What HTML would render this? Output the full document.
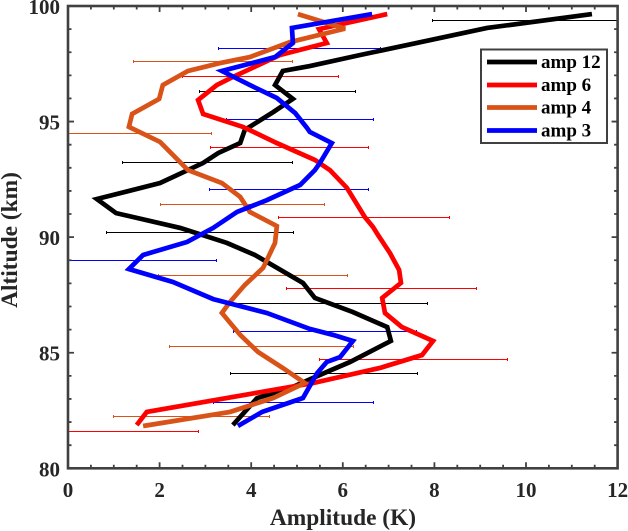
<!DOCTYPE html>
<html>
<head>
<meta charset="utf-8">
<style>
html,body{margin:0;padding:0;background:#fff;}
svg{display:block;font-family:"Liberation Serif",serif;font-weight:bold;}
</style>
</head>
<body>
<svg id="chart" xmlns="http://www.w3.org/2000/svg" width="628" height="531" viewBox="0 0 628 531">
  <defs><clipPath id="plot-clip"><rect x="68" y="6" width="550" height="462.3"></rect></clipPath></defs>
  <rect x="0" y="0" width="628" height="531" fill="#fff"></rect>
  <g id="err-layer" clip-path="url(#plot-clip)"></g>
  <g id="line-layer" clip-path="url(#plot-clip)"></g>
  <g id="axis-layer"></g>
  <text x="343" y="525" font-size="23.4" text-anchor="middle" fill="#262626">Amplitude (K)</text>
  <text transform="translate(17,240) rotate(-90)" font-size="23.4" text-anchor="middle" fill="#262626">Altitude (km)</text>
  <g id="legend-layer"></g>
</svg>
<script>
var xTicks = [0, 2, 4, 6, 8, 10, 12];
var yTicks = [80, 85, 90, 95, 100];
var xDomain = [0, 12];
var yDomain = [80, 100];

var amp12Amp = [3.60,4.13,4.85,5.50,6.16,7.05,6.97,6.22,5.39,5.13,4.08,3.47,2.45,1.05,0.63,2.01,2.95,3.28,3.76,3.86,4.48,4.91,4.52,4.69,5.28,6.38,7.40,9.15,11.44];
var amp12Alt = [81.87,83.04,83.47,84.04,84.60,85.51,86.11,86.76,87.37,88.02,89.23,89.75,90.40,91.04,91.65,92.34,93.21,93.64,94.07,94.64,95.41,95.98,96.58,97.19,97.40,97.88,98.31,99.05,99.65];

var amp6Amp = [1.50,1.72,5.35,6.81,7.73,7.97,7.29,6.92,6.86,7.27,7.23,7.03,6.77,6.66,6.48,6.09,5.72,5.39,4.56,3.82,2.95,2.84,3.25,3.60,4.63,5.65,5.48,6.97];
var amp6Alt = [81.87,82.44,83.69,84.34,84.90,85.51,86.11,86.72,87.37,88.02,88.58,89.31,90.09,90.44,90.87,92.13,92.90,93.34,94.07,94.77,95.33,95.93,96.58,96.93,97.88,98.40,99.00,99.65];

var amp4Amp = [1.64,3.54,4.48,5.17,4.69,4.15,3.76,3.36,3.54,3.86,4.26,4.52,4.56,3.97,3.76,3.36,2.62,2.01,1.33,1.40,1.99,2.07,2.62,3.32,3.97,4.85,6.05,5.02];
var amp4Alt = [81.83,82.44,83.04,83.69,84.34,85.03,85.77,86.72,87.20,87.93,88.67,89.75,90.48,91.09,91.74,92.34,92.90,94.12,94.77,95.33,95.98,96.58,97.19,97.53,97.79,98.44,99.02,99.65];

var amp3Amp = [3.71,4.24,5.13,5.44,5.65,5.94,6.22,5.79,5.28,4.34,3.17,2.29,1.33,1.64,2.60,3.17,3.69,4.34,5.07,5.39,5.50,5.76,5.28,5.22,4.96,4.56,3.97,3.36,4.52,4.91,4.89,6.64];
var amp3Alt = [81.83,82.44,83.04,84.12,84.60,84.81,85.51,85.77,86.03,86.72,87.32,88.06,88.62,89.23,89.79,90.40,91.09,91.60,92.26,92.90,93.21,94.07,94.55,94.72,95.37,96.02,96.58,97.19,97.79,98.40,99.05,99.65];

var amp12ErrAlt = [99.39,96.32,93.25,90.18,87.15,84.08];
var amp12ErrLow = [7.95,2.88,1.20,0.83,3.54,3.54];
var amp12ErrHigh = [14.10,6.27,4.91,4.93,7.86,7.64];

var amp6ErrAlt = [96.93,93.90,90.83,87.76,84.69,81.61];
var amp6ErrLow = [2.51,3.12,4.59,4.78,5.50,0];
var amp6ErrHigh = [5.90,6.57,8.34,8.91,9.59,2.84];

var amp4ErrAlt = [97.58,94.50,91.43,88.36,85.29,82.22];
var amp4ErrLow = [1.44,0,2.01,1.97,2.21,1.00];
var amp4ErrHigh = [4.91,3.14,5.61,6.11,6.24,4.39];

var amp3ErrAlt = [98.18,95.11,92.04,88.97,85.90,82.83];
var amp3ErrLow = [3.28,3.47,3.08,0,3.62,3.17];
var amp3ErrHigh = [6.83,6.66,6.57,3.25,7.60,6.66];

var seriesLabels = ["amp 12", "amp 6", "amp 4", "amp 3"];
var seriesColors = ["#000000", "#ff0000", "#d95319", "#0000ff"];

var NS = "http://www.w3.org/2000/svg";
var plot = {left: 68, right: 617.6, top: 6, bottom: 468.3};

function xScale(v) {
  return plot.left + (v - xDomain[0]) / (xDomain[1] - xDomain[0]) * (plot.right - plot.left);
}
function yScale(v) {
  return plot.bottom - (v - yDomain[0]) / (yDomain[1] - yDomain[0]) * (plot.bottom - plot.top);
}
function make(tag, parent, attrs) {
  var el = document.createElementNS(NS, tag);
  for (var k in attrs) { el.setAttribute(k, attrs[k]); }
  parent.appendChild(el);
  return el;
}

var errLayer = document.getElementById("err-layer");
var lineLayer = document.getElementById("line-layer");
var axisLayer = document.getElementById("axis-layer");
var legendLayer = document.getElementById("legend-layer");

function drawErrors(alts, lows, highs, color) {
  alts.forEach(function (alt, i) {
    var y = Math.floor(yScale(alt)) + 0.5;
    var x1 = Math.floor(xScale(lows[i])) + 0.5;
    var x2 = Math.floor(xScale(highs[i])) + 0.5;
    var d = "M" + x1 + " " + y + "H" + x2 + "M" + x1 + " " + (y - 1.5) + "V" + (y + 1.5) + "M" + x2 + " " + (y - 1.5) + "V" + (y + 1.5);
    var bar = make("path", errLayer, {d: d, stroke: color, "stroke-width": 1, fill: "none"});
    
    
  });
}
function drawLine(amps, alts, color) {
  var pts = amps.map(function (a, i) { return xScale(a).toFixed(2) + "," + yScale(alts[i]).toFixed(2); }).join(" ");
  var line = make("polyline", lineLayer, {points: pts, fill: "none", stroke: color, "stroke-width": 4.7, "stroke-linejoin": "miter", "stroke-miterlimit": 3});
  
  
}

drawErrors(amp12ErrAlt, amp12ErrLow, amp12ErrHigh, seriesColors[0]);
drawErrors(amp6ErrAlt, amp6ErrLow, amp6ErrHigh, seriesColors[1]);
drawErrors(amp4ErrAlt, amp4ErrLow, amp4ErrHigh, seriesColors[2]);
drawErrors(amp3ErrAlt, amp3ErrLow, amp3ErrHigh, seriesColors[3]);

drawLine(amp12Amp, amp12Alt, seriesColors[0]);
drawLine(amp6Amp, amp6Alt, seriesColors[1]);
drawLine(amp4Amp, amp4Alt, seriesColors[2]);
drawLine(amp3Amp, amp3Alt, seriesColors[3]);

var axisColor = "#404040";
var frame = make("rect", axisLayer, {x: plot.left, y: plot.top, width: plot.right - plot.left, height: plot.bottom - plot.top, fill: "none", stroke: axisColor, "stroke-width": 2.6});



function tickX(v, len) {
  var x = xScale(v);
  var t = make("path", axisLayer, {d: "M" + x + " " + plot.bottom + "v" + (-len) + "M" + x + " " + plot.top + "v" + len, stroke: axisColor, "stroke-width": 1.8, fill: "none"});
  
  
}
function tickY(v, len) {
  var y = yScale(v);
  var t = make("path", axisLayer, {d: "M" + plot.left + " " + y + "h" + len + "M" + plot.right + " " + y + "h" + (-len), stroke: axisColor, "stroke-width": 1.8, fill: "none"});
  
  
}
for (var mx = xDomain[0]; mx <= xDomain[1]; mx += 0.5) { tickX(mx, mx % 2 === 0 ? 6 : 3.5); }
for (var my = yDomain[0]; my <= yDomain[1]; my += 1) { tickY(my, my % 5 === 0 ? 6 : 3.5); }

xTicks.forEach(function (v) {
  var t = make("text", axisLayer, {x: xScale(v), y: 497, "font-size": 21, "text-anchor": "middle", fill: "#262626"});
  t.textContent = String(v);
  
  
});
yTicks.forEach(function (v) {
  var t = make("text", axisLayer, {x: 60, y: yScale(v) + 8, "font-size": 21, "text-anchor": "end", fill: "#262626"});
  t.textContent = String(v);
  
  
});

var legendBox = make("rect", legendLayer, {x: 481, y: 49.5, width: 126, height: 93.5, fill: "#fff", stroke: axisColor, "stroke-width": 2});


var legendRowY = [62, 85, 107.5, 130.5];
seriesLabels.forEach(function (label, i) {
  var key = make("line", legendLayer, {x1: 487, x2: 537, y1: legendRowY[i], y2: legendRowY[i], stroke: seriesColors[i], "stroke-width": 4.7});
  
  
  var t = make("text", legendLayer, {x: 541, y: legendRowY[i] + 6, "font-size": 19, fill: "#000"});
  t.textContent = label;
  
  
});
</script>
</body>
</html>
